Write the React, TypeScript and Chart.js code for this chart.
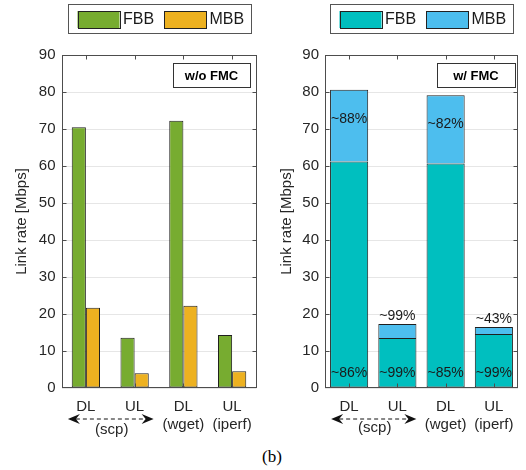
import React, { useEffect, useRef } from "react";
import { Chart, registerables } from "chart.js";

Chart.register(...registerables);

const FONT = "'Liberation Sans', Arial, Helvetica, sans-serif";

const categories: string[][] = [["DL", ""], ["UL", ""], ["DL", "(wget)"], ["UL", "(iperf)"]];
const groupLabel = "(scp)";
const seriesNames = ["FBB", "MBB"];

const leftFBB = [70.5, 13.6, 72.2, 14.3];
const leftMBB = [21.7, 4.0, 22.2, 4.5];

const rightFBB = [61.2, 13.5, 60.7, 14.6];
const rightMBB = [19.4, 3.8, 18.4, 1.9];
const rightTopPct = ["~88%", "~99%", "~82%", "~43%"];
const rightBottomPct = ["~86%", "~99%", "~85%", "~99%"];

const yMin = 0;
const yMax = 90;
const yStep = 10;

const leftColors = ["#77AC30", "#EDB120"];
const rightColors = ["#00BFBF", "#4DBEEE"];

type PanelCfg = {
  stacked: boolean;
  fbb: number[];
  mbb: number[];
  colors: string[];
  tag: string;
  tagW: number;
  tagRight: number;
  yAxisW: number;
  rightPad: number;
  titleOffset: number;
  catPct: number;
  topPct?: string[];
  bottomPct?: string[];
  scpY: number;
};

function arrowHead(ctx: CanvasRenderingContext2D, x: number, y: number, dir: number) {
  ctx.beginPath();
  ctx.moveTo(x, y);
  ctx.lineTo(x - dir * 12, y - 5);
  ctx.lineTo(x - dir * 8, y);
  ctx.lineTo(x - dir * 12, y + 5);
  ctx.closePath();
  ctx.fill();
}

function makeDecor(cfg: PanelCfg) {
  return {
    id: "decor",
    afterDraw(chart: any) {
      const ctx: CanvasRenderingContext2D = chart.ctx;
      const a = chart.chartArea;
      const xs = chart.scales.x;
      const ys = chart.scales.y;
      ctx.save();

      // percent labels
      if (cfg.topPct && cfg.bottomPct) {
        ctx.font = `14px ${FONT}`;
        ctx.fillStyle = "#1a1a1a";
        ctx.textAlign = "center";
        ctx.textBaseline = "middle";
        for (let i = 0; i < cfg.fbb.length; i++) {
          const cx = xs.getPixelForValue(i);
          const total = cfg.fbb[i] + cfg.mbb[i];
          if (cfg.mbb[i] > 8) {
            ctx.fillText(cfg.topPct[i], cx, ys.getPixelForValue(total) + 29);
          } else {
            ctx.fillText(cfg.topPct[i], cx, ys.getPixelForValue(total) - 8);
          }
          ctx.fillText(cfg.bottomPct[i], cx, ys.getPixelForValue(0) - 15);
        }
      }

      // frame
      ctx.strokeStyle = "#4d4d4d";
      ctx.lineWidth = 1;
      const L = Math.round(a.left) + 0.5;
      const R = Math.round(a.right) - 0.5;
      const T = Math.round(a.top) + 0.5;
      const B = Math.round(a.bottom) - 0.5;
      ctx.strokeRect(L, T, R - L, B - T);
      // inner ticks
      ctx.beginPath();
      for (let v = yMin + yStep; v < yMax; v += yStep) {
        const y = Math.round(ys.getPixelForValue(v)) + 0.5;
        ctx.moveTo(L, y);
        ctx.lineTo(L + 4, y);
        ctx.moveTo(R, y);
        ctx.lineTo(R - 4, y);
      }
      for (let i = 0; i < categories.length; i++) {
        const x = Math.round(xs.getPixelForValue(i)) + 0.5;
        ctx.moveTo(x, T);
        ctx.lineTo(x, T + 4);
        ctx.moveTo(x, B);
        ctx.lineTo(x, B - 4);
      }
      ctx.stroke();

      // tag box
      ctx.font = `bold 13px ${FONT}`;
      const tbR = a.right - cfg.tagRight;
      const tbL = tbR - cfg.tagW;
      const tbT = a.top + 8;
      ctx.fillStyle = "#ffffff";
      ctx.fillRect(tbL, tbT, cfg.tagW, 24);
      ctx.strokeStyle = "#333333";
      ctx.strokeRect(Math.round(tbL) + 0.5, Math.round(tbT) + 0.5, cfg.tagW, 24);
      ctx.fillStyle = "#000000";
      ctx.textAlign = "center";
      ctx.textBaseline = "middle";
      ctx.fillText(cfg.tag, (tbL + tbR) / 2, tbT + 13);

      // legend
      const cxp = (a.left + a.right) / 2;
      const lgL = Math.round(cxp - 91.5);
      const lgT = 4;
      ctx.strokeStyle = "#555555";
      ctx.strokeRect(lgL + 0.5, lgT + 0.5, 183, 29);
      const swX = [lgL + 9.5, lgL + 96];
      const txX = [lgL + 55, lgL + 141.5];
      ctx.font = `16px ${FONT}`;
      ctx.textAlign = "left";
      ctx.textBaseline = "middle";
      for (let k = 0; k < 2; k++) {
        ctx.fillStyle = cfg.colors[k];
        ctx.fillRect(swX[k], lgT + 7, 42, 17);
        ctx.strokeStyle = "#222222";
        ctx.strokeRect(Math.round(swX[k]) + 0.5, lgT + 7.5, 42, 17);
        ctx.fillStyle = "#1a1a1a";
        ctx.fillText(seriesNames[k], txX[k], lgT + 16);
      }

      // scp arrow
      const x0 = xs.getPixelForValue(0) - 18;
      const x1 = xs.getPixelForValue(1) + 19;
      const ay = a.bottom + 31;
      ctx.strokeStyle = "#111111";
      ctx.fillStyle = "#111111";
      ctx.setLineDash([4, 3]);
      ctx.beginPath();
      ctx.moveTo(x0 + 8, ay);
      ctx.lineTo(x1 - 8, ay);
      ctx.stroke();
      ctx.setLineDash([]);
      arrowHead(ctx, x0, ay, -1);
      arrowHead(ctx, x1, ay, 1);
      ctx.font = `15px ${FONT}`;
      ctx.fillStyle = "#262626";
      ctx.textAlign = "center";
      ctx.textBaseline = "middle";
      ctx.fillText(groupLabel, (x0 + x1) / 2 + 1, a.bottom + cfg.scpY);

      ctx.restore();
    },
  };
}

function Panel({ cfg, left }: { cfg: PanelCfg; left: number }) {
  const ref = useRef<HTMLCanvasElement>(null);
  useEffect(() => {
    const canvas = ref.current!;
    const tickFont = { family: FONT, size: 15 };
    const chart = new Chart(canvas, {
      type: "bar",
      data: {
        labels: categories,
        datasets: [
          {
            label: seriesNames[0],
            data: cfg.fbb,
            backgroundColor: cfg.colors[0],
            borderColor: "#1f1f1f",
            borderWidth: 1,
            borderSkipped: false,
            categoryPercentage: cfg.catPct,
            barPercentage: 1,
          },
          {
            label: seriesNames[1],
            data: cfg.mbb,
            backgroundColor: cfg.colors[1],
            borderColor: "#1f1f1f",
            borderWidth: 1,
            borderSkipped: cfg.stacked ? "bottom" : false,
            categoryPercentage: cfg.catPct,
            barPercentage: 1,
          },
        ],
      },
      options: {
        responsive: false,
        animation: false,
        devicePixelRatio: 1,
        layout: { padding: { top: 55, right: cfg.rightPad, left: 0, bottom: 0 } },
        plugins: { legend: { display: false }, tooltip: { enabled: false } },
        scales: {
          x: {
            stacked: cfg.stacked,
            grid: { display: false, drawTicks: false },
            border: { display: false },
            ticks: { font: tickFont, color: "#262626", padding: 10, maxRotation: 0, autoSkip: false },
            afterFit: (s: any) => {
              s.height = 57;
            },
          },
          y: {
            stacked: cfg.stacked,
            min: yMin,
            max: yMax,
            ticks: { stepSize: yStep, font: tickFont, color: "#262626", padding: 6 },
            grid: { color: "#e6e6e6", drawTicks: false },
            border: { display: false },
            title: {
              display: true,
              text: "Link rate [Mbps]",
              font: { family: FONT, size: 15 },
              color: "#262626",
              padding: { top: cfg.titleOffset, bottom: 0 },
            },
            afterFit: (s: any) => {
              s.width = cfg.yAxisW;
            },
          },
        },
      } as any,
      plugins: [makeDecor(cfg)],
    });
    return () => chart.destroy();
  }, []);
  return (
    <canvas
      ref={ref}
      width={263}
      height={445}
      style={{ position: "absolute", left, top: 0, width: 263, height: 445 }}
    />
  );
}

const leftCfg: PanelCfg = {
  stacked: false,
  fbb: leftFBB,
  mbb: leftMBB,
  colors: leftColors,
  tag: "w/o FMC",
  tagW: 77,
  tagRight: 6.5,
  yAxisW: 61.5,
  rightPad: 6.5,
  titleOffset: 13,
  catPct: 0.58,
  scpY: 42,
};

const rightCfg: PanelCfg = {
  stacked: true,
  fbb: rightFBB,
  mbb: rightMBB,
  colors: rightColors,
  tag: "w/ FMC",
  tagW: 78,
  tagRight: 3,
  yAxisW: 62,
  rightPad: 8,
  titleOffset: 15,
  catPct: 0.79,
  topPct: rightTopPct,
  bottomPct: rightBottomPct,
  scpY: 40,
};

export default function App() {
  return (
    <div style={{ position: "absolute", left: 0, top: 0, width: 526, height: 470, background: "#fff" }}>
      <Panel cfg={leftCfg} left={0} />
      <Panel cfg={rightCfg} left={263} />
      <div
        style={{
          position: "absolute",
          left: 0,
          width: 526,
          top: 447,
          textAlign: "center",
          fontFamily: "'Liberation Serif', 'Times New Roman', serif",
          fontSize: 17,
          color: "#000",
          paddingLeft: 18,
          boxSizing: "border-box",
        }}
      >
        (b)
      </div>
    </div>
  );
}
